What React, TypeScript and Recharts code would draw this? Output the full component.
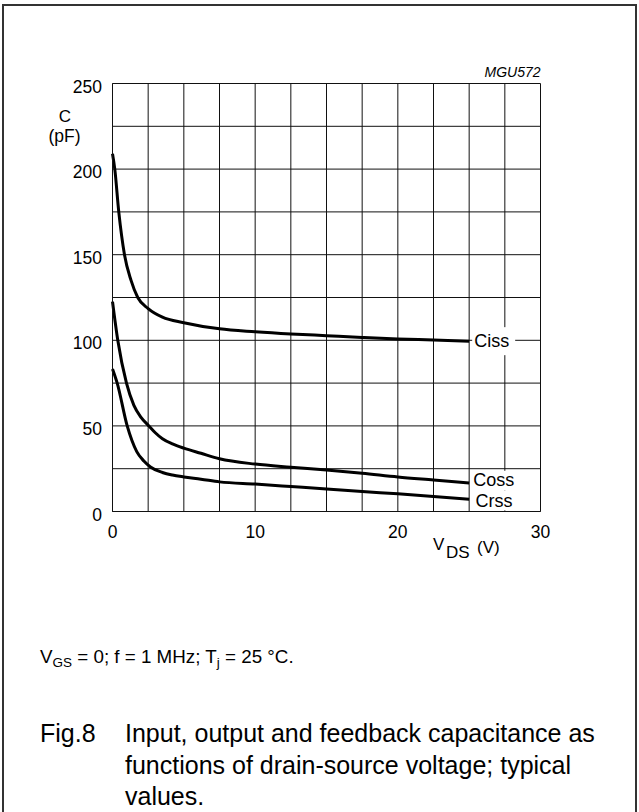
import { LineChart, Line, XAxis, YAxis, CartesianGrid } from "recharts"

// grid every 2.5 V / 25 pF, numbers only on the major steps
const xTicks = [0, 2.5, 5, 7.5, 10, 12.5, 15, 17.5, 20, 22.5, 25, 27.5, 30]
const xLabels = [0, 10, 20, 30]
const yTicks = [0, 25, 50, 75, 100, 125, 150, 175, 200, 225, 250]
const yLabels = [0, 50, 100, 150, 200, 250]

// typical capacitance (pF) against drain-source voltage (V)
const cissVds = [0, 0.16, 0.44, 0.84, 1.3, 1.77, 2.5, 3.5, 5, 7.5, 10, 12.5, 15, 17.5, 20, 22.5, 25]
const cissPf = [209, 200, 175, 150, 135, 125, 118.5, 113.5, 110.3, 106.7, 105, 103.7, 102.7, 101.7, 100.8, 100.2, 99.5]

const cossVds = [0, 0.37, 0.98, 1.5, 2, 2.55, 3, 3.5, 4.2, 5, 6.2, 7.5, 10, 12.5, 15, 17.5, 20, 22.5, 25]
const cossPf = [122.6, 100, 75, 62, 55, 50, 46, 42.5, 39.5, 37, 34, 30.8, 27.7, 25.9, 24.3, 22.4, 20.2, 18.4, 16.6]

const crssVds = [0, 0.33, 1.03, 1.7, 2.2, 2.66, 3.5, 4.2, 5, 6.2, 7.5, 10, 12.5, 15, 17.5, 20, 22.5, 25]
const crssPf = [83.3, 75, 50, 35, 29.5, 26, 22.8, 21.3, 20.2, 18.9, 17.3, 16, 14.6, 13.2, 11.7, 10.3, 8.8, 7.2]

const toPoints = (vds: number[], pf: number[]) => vds.map((v, i) => ({ vds: v, pf: pf[i] }))

const curves = [
  { name: "Ciss", data: toPoints(cissVds, cissPf) },
  { name: "Coss", data: toPoints(cossVds, cossPf) },
  { name: "Crss", data: toPoints(crssVds, crssPf) },
]

const FONT = "'Liberation Sans', Arial, Helvetica, sans-serif"

// where each curve's name sits relative to its last point, plus the white patch behind it
const endLabelStyle: Record<string, { dx: number; dy: number; top: number; bottom: number }> = {
  Ciss: { dx: 5, dy: -0.5, top: -14, bottom: 14 },
  Coss: { dx: 4, dy: -3.3, top: -12.3, bottom: 7.2 },
  Crss: { dx: 6.4, dy: 1.4, top: -8.8, bottom: 11.2 },
}

function endLabel(name: string, count: number) {
  return (props: any) => {
    const { x, y, index } = props
    if (index !== count - 1) return <g />
    const s = endLabelStyle[name]
    return (
      <g>
        <rect x={x + 3} y={y + s.top} width={43} height={s.bottom - s.top} fill="#fff" />
        <text x={x + s.dx} y={y + s.dy} dominantBaseline="central" fontSize={18} fontFamily={FONT} fill="#000">
          {name}
        </text>
      </g>
    )
  }
}

const XTick = (props: any) => {
  const { x, payload } = props
  if (!xLabels.includes(payload.value)) return <g />
  return (
    <text x={x} y={538.3} textAnchor="middle" fontSize={17.5} fontFamily={FONT} fill="#000">
      {payload.value}
    </text>
  )
}

const YTick = (props: any) => {
  const { y, payload } = props
  if (!yLabels.includes(payload.value)) return <g />
  return (
    <text x={102} y={y + 3} textAnchor="end" dominantBaseline="central" fontSize={17.5} fontFamily={FONT} fill="#000">
      {payload.value}
    </text>
  )
}

export default function App() {
  return (
    <div style={{ position: "absolute", left: 0, top: 0, width: 639, height: 812, overflow: "hidden", background: "#fff" }}>
      <div style={{ position: "absolute", left: 0, top: 0 }}>
        <LineChart width={639} height={560} margin={{ top: 83.5, right: 98.5, bottom: 0, left: 52.5 }}>
          <CartesianGrid stroke="#111" strokeWidth={1} />
          <XAxis
            type="number"
            dataKey="vds"
            domain={[0, 30]}
            ticks={xTicks}
            interval={0}
            height={48.5}
            axisLine={{ stroke: "#111" }}
            tickLine={false}
            tick={<XTick />}
          />
          <YAxis
            type="number"
            dataKey="pf"
            domain={[0, 250]}
            ticks={yTicks}
            interval={0}
            width={60}
            axisLine={{ stroke: "#111" }}
            tickLine={false}
            tick={<YTick />}
          />
          {curves.map((c) => (
            <Line
              key={c.name}
              data={c.data}
              dataKey="pf"
              type="monotone"
              stroke="#000"
              strokeWidth={3}
              dot={false}
              isAnimationActive={false}
              label={endLabel(c.name, c.data.length)}
            />
          ))}
        </LineChart>
      </div>
      <svg width={639} height={812} style={{ position: "absolute", left: 0, top: 0, pointerEvents: "none" }}>
        <path d="M3,812 V5 H636 V812" fill="none" stroke="#333" strokeWidth={2} />
        <g fontFamily={FONT} fill="#000">
          <text x={540.5} y={76.5} textAnchor="end" fontSize={14} fontStyle="italic">MGU572</text>
          <text x={65} y={122.3} textAnchor="middle" fontSize={17}>C</text>
          <text x={64.5} y={142.3} textAnchor="middle" fontSize={17.5}>(pF)</text>
          <text x={433} y={550} fontSize={17}>V</text>
          <text x={446} y={558.3} fontSize={17}>DS</text>
          <text x={477} y={552.5} fontSize={17}>(V)</text>
          <text x={40} y={662.5} fontSize={18.8}>
            V<tspan fontSize={13.5} dy={4}>GS</tspan>
            <tspan dy={-4}> = 0; f = 1 MHz; T</tspan>
            <tspan fontSize={13.5} dy={4}>j</tspan>
            <tspan dy={-4}> = 25 °C.</tspan>
          </text>
          <text x={40} y={742} fontSize={25}>Fig.8</text>
          <text x={125} y={742} fontSize={25}>Input, output and feedback capacitance as</text>
          <text x={125} y={773.5} fontSize={25}>functions of drain-source voltage; typical</text>
          <text x={125} y={805} fontSize={25}>values.</text>
        </g>
      </svg>
    </div>
  )
}
